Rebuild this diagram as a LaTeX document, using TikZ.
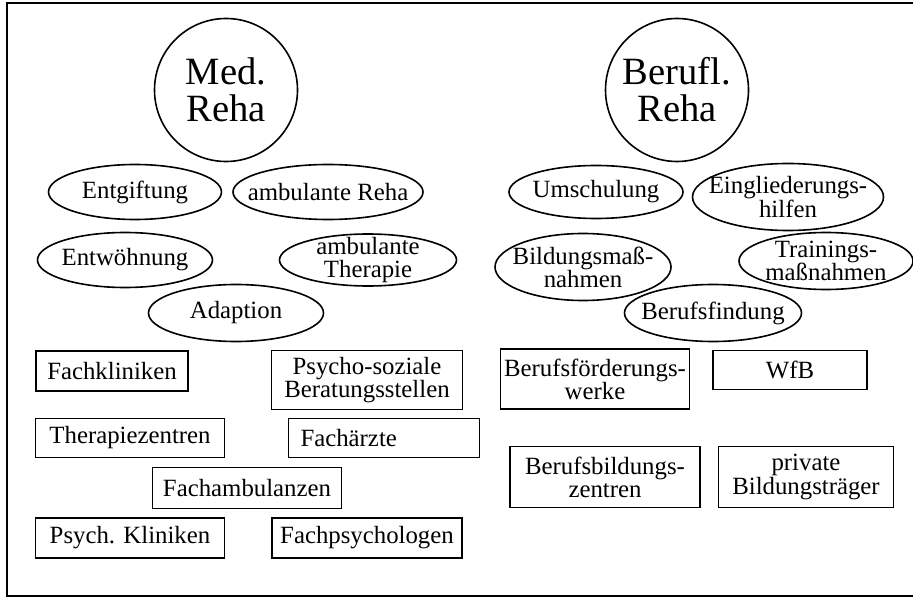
\documentclass[tikz,border=0pt]{standalone}
\usepackage{fontspec}
\setmainfont{Liberation Serif}
\usetikzlibrary{shapes.geometric}

\tikzset{
  rehakreis/.style={draw, circle, line width=0.8pt, minimum size=71.5pt, inner sep=0pt,
    align=center, font=\fontsize{19.3}{18.5}\selectfont},
  angebot/.style={align=center, inner sep=0pt, font=\fontsize{12.4}{11.6}\selectfont},
  oval/.style={line width=0.8pt},
  traeger/.style 2 args={draw, rectangle, line width=0.8pt, minimum width=#1, minimum height=#2,
    inner sep=0pt, align=center, font=\fontsize{12.4}{11.6}\selectfont},
}

\begin{document}
\begin{tikzpicture}[x=0.5pt, y=-0.5pt]
    \useasboundingbox (0,0) rectangle (913,598);

    % Frame
    \draw[oval] (913,3) -- (7,3) -- (7,596) -- (913,596);

    % Two main circles
    \node[rehakreis] (med) at (226,90) {Med.\\Reha};
    \node[rehakreis] (beruf) at (677,90) {Berufl.\\Reha};

    % Ellipses of the medical side
    \node[angebot] (entgift) at (135,192) {Entgiftung};
    \draw[oval] (entgift.center) ellipse [x radius=43.25pt, y radius=13.75pt];
    \node[angebot] (ambreha) at (328,192) {ambulante Reha};
    \draw[oval] (ambreha.center) ellipse [x radius=47.5pt, y radius=13.75pt];
    \node[angebot] (entwoehn) at (125,260) {Entwöhnung};
    \draw[oval] (entwoehn.center) ellipse [x radius=43.75pt, y radius=13.75pt];
    \node[angebot] (ambther) at (368,260) {ambulante\\Therapie};
    \draw[oval] (ambther.center) ellipse [x radius=44.25pt, y radius=13pt];
    \node[angebot] (adapt) at (236,313) {Adaption};
    \draw[oval] (adapt.center) ellipse [x radius=43.75pt, y radius=14.25pt];

    % Ellipses of the vocational side
    \node[angebot] (umschul) at (596,192) {Umschulung};
    \draw[oval] (umschul.center) ellipse [x radius=43.5pt, y radius=13.25pt];
    \node[angebot] (eingl) at (788,197) {Eingliederungs-\\hilfen};
    \draw[oval] (eingl.center) ellipse [x radius=47.75pt, y radius=16.75pt];
    \node[angebot] (bildung) at (583,267) {Bildungsmaß-\\nahmen};
    \draw[oval] (bildung.center) ellipse [x radius=44pt, y radius=16.75pt];
    \node[angebot] (training) at (826,261) {Trainings-\\maßnahmen};
    \draw[oval] (training.center) ellipse [x radius=43.5pt, y radius=14.25pt];
    \node[angebot] (findung) at (713,313) {Berufsfindung};
    \draw[oval] (findung.center) ellipse [x radius=44.25pt, y radius=14.25pt];

    % Boxes of the medical side
    \node[traeger={76pt}{20pt}] (fachkl) at (112,371) {Fachkliniken};
    \node[traeger={95.5pt}{29.5pt}] (beratung) at (367,380) {Psycho-soziale\\Beratungsstellen};
    \node[traeger={94.5pt}{19.5pt}] (therapiez) at (130,438) {Therapiezentren};
    \node[traeger={95.5pt}{19.5pt}, text width=83.5pt, align=left] (fachaerzte) at (384,438) {Fachärzte};
    \node[traeger={94.5pt}{20.5pt}] (fachamb) at (247,488) {Fachambulanzen};
    \node[traeger={94.5pt}{20pt}] (psychkl) at (130,538) {Psych. Kliniken};
    \node[traeger={95pt}{20pt}] (fachpsych) at (367,538) {Fachpsychologen};

    % Boxes of the vocational side
    \node[traeger={94.5pt}{30pt}] (bfw) at (595,379) {Berufsförderungs-\\werke};
    \node[traeger={77pt}{19.5pt}] (wfb) at (790,370) {WfB};
    \node[traeger={95pt}{30.5pt}] (bbz) at (605,477) {Berufsbildungs-\\zentren};
    \node[traeger={87.5pt}{30.5pt}] (privat) at (806,477) {private\\Bildungsträger};

\end{tikzpicture}
\end{document}
